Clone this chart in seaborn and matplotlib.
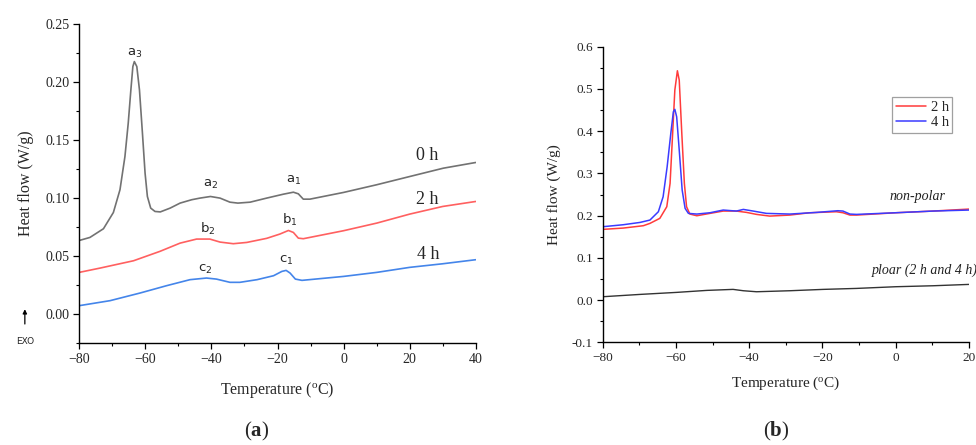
import numpy as np
import pandas as pd
import matplotlib
matplotlib.use('Agg')
import matplotlib.pyplot as plt
import seaborn as sns
from matplotlib.ticker import MultipleLocator

sns.set_style('ticks')
plt.rcParams['font.family'] = ['Liberation Serif', 'DejaVu Serif']
plt.rcParams['mathtext.fontset'] = 'custom'
plt.rcParams['mathtext.rm'] = 'Liberation Serif'

# ---- panel (a) data ----
t_0h = [-80, -76.8, -72.7, -69.7, -67.7, -66.2, -65.2, -64.4, -63.8, -63.35, -62.6, -61.8,
        -60.9, -60.1, -59.4, -58.4, -57.1, -55.5, -52.5, -49.5, -46.0, -43.5, -40.3, -37.4,
        -34.4, -32, -28.3, -23.3, -18.2, -15.2, -13.7, -12.2, -10.2, 0, 10, 20, 30.2, 40]
hf_0h = [0.0634, 0.0660, 0.0735, 0.0875, 0.1071, 0.1357, 0.1645, 0.1932, 0.2133, 0.2176,
         0.2133, 0.1932, 0.1559, 0.1214, 0.1013, 0.0913, 0.0884, 0.0880, 0.0913, 0.0956,
         0.0985, 0.0999, 0.1013, 0.0999, 0.0964, 0.0956, 0.0964, 0.0999, 0.1033, 0.1050,
         0.1036, 0.0990, 0.0990, 0.1048, 0.1114, 0.1185, 0.1257, 0.1306]

t_2h = [-80, -73.7, -63.6, -55.6, -49.5, -44.5, -40.5, -37.4, -33.4, -29.3, -23.3, -19.3,
        -16.7, -15.2, -13.7, -12.2, 0, 10.1, 20, 30, 40]
hf_2h = [0.0359, 0.0396, 0.0459, 0.0540, 0.0611, 0.0646, 0.0646, 0.0620, 0.0606, 0.0617,
         0.0652, 0.0689, 0.0720, 0.0703, 0.0654, 0.0649, 0.0718, 0.0784, 0.0861, 0.0927,
         0.0970]

t_4h = [-80, -70.7, -61.6, -53.6, -46.5, -41.5, -38.5, -34.4, -31.4, -26.2, -21.2, -18.7,
        -17.4, -16.2, -14.6, -12.6, 0, 10.1, 20, 30, 40]
hf_4h = [0.0072, 0.0115, 0.0181, 0.0244, 0.0296, 0.0310, 0.0301, 0.0273, 0.0273, 0.0296,
         0.0330, 0.0367, 0.0376, 0.0353, 0.0301, 0.0290, 0.0324, 0.0359, 0.0402, 0.0433,
         0.0468]

peak_labels = [('a', '3', -63.1, 0.2248), ('a', '2', -40.3, 0.1114), ('a', '1', -15.2, 0.1148),
               ('b', '2', -41.0, 0.0732), ('b', '1', -16.2, 0.0812),
               ('c', '2', -42.0, 0.0387), ('c', '1', -17.4, 0.0462)]
time_labels = [('0 h', 25.2, 0.1363), ('2 h', 25.2, 0.0985), ('4 h', 25.7, 0.0511)]

# ---- panel (b) data ----
t_b2 = [-80, -74.4, -68.9, -67.1, -64.4, -62.5, -61.6, -60.9, -60.3, -59.6, -59.1, -58.4,
        -57.7, -57.1, -56.2, -54.3, -50.7, -47.1, -43.5, -40.7, -38, -34.4, -28.9, -23.5,
        -16.2, -14.4, -12.5, -10.7, 0, 10.2, 20]
hf_b2 = [0.1674, 0.1705, 0.1761, 0.1816, 0.1935, 0.2211, 0.2764, 0.3948, 0.4974, 0.5431,
         0.521, 0.3948, 0.2764, 0.2211, 0.2037, 0.1997, 0.2053, 0.2108, 0.2108, 0.2076,
         0.2029, 0.1989, 0.2013, 0.2068, 0.2092, 0.2068, 0.2013, 0.2013, 0.2068, 0.2108,
         0.2155]

t_b4 = [-80, -74.4, -69.8, -67.1, -64.8, -63.5, -62.4, -61.4, -60.7, -60.3, -59.8, -59.1,
        -58.3, -57.5, -56.6, -54.3, -50.7, -47.1, -43.5, -41.6, -38.9, -35.3, -28.9, -21.6,
        -15.8, -14.4, -12.5, -10.7, 0, 10.2, 20]
hf_b4 = [0.1737, 0.1784, 0.1839, 0.1895, 0.2092, 0.2447, 0.3157, 0.3948, 0.446, 0.4517,
         0.434, 0.3553, 0.2605, 0.2172, 0.2053, 0.2037, 0.2068, 0.2132, 0.2108, 0.2147,
         0.2108, 0.2053, 0.2037, 0.2076, 0.2116, 0.2108, 0.2037, 0.2029, 0.2068, 0.2108,
         0.2132]

t_polar = [-80, -69.8, -59.8, -51.6, -44.4, -41.6, -38, -28.9, -19.8, -10.7, 0, 10.2, 20]
hf_polar = [0.0079, 0.0134, 0.0182, 0.0229, 0.0253, 0.0221, 0.0197, 0.0221, 0.0253, 0.0276,
            0.0316, 0.0339, 0.0371]

fig = plt.figure(figsize=(9.76, 4.45), dpi=100)
ax1 = fig.add_axes([0.0813, 0.2292, 0.4061, 0.7169])
ax2 = fig.add_axes([0.6175, 0.2308, 0.3753, 0.6642])


def style_axis(ax, size):
    sns.despine(ax=ax)
    for s in ['left', 'bottom']:
        ax.spines[s].set_linewidth(1.0)
        ax.spines[s].set_color('black')
    ax.tick_params(which='major', direction='out', length=4, width=0.9, labelsize=size,
                   color='black', pad=3)
    ax.tick_params(which='minor', direction='out', length=2.5, width=0.8, color='black')
    ax.grid(False)


# panel (a)
sns.lineplot(x=t_0h, y=hf_0h, ax=ax1, color='#727272', linewidth=1.2)
sns.lineplot(x=t_2h, y=hf_2h, ax=ax1, color='#ff6060', linewidth=1.2)
sns.lineplot(x=t_4h, y=hf_4h, ax=ax1, color='#4485ea', linewidth=1.2)
ax1.set_xlim(-80, 40)
ax1.set_ylim(-0.025, 0.25)
ax1.xaxis.set_major_locator(MultipleLocator(20))
ax1.xaxis.set_minor_locator(MultipleLocator(10))
ax1.yaxis.set_major_locator(MultipleLocator(0.05))
ax1.yaxis.set_minor_locator(MultipleLocator(0.025))
ax1.yaxis.set_major_formatter(matplotlib.ticker.FormatStrFormatter('%.2f'))
style_axis(ax1, 10)
ax1.set_xlabel('Temperature ($\\mathregular{^{o}}$C)', fontsize=11.5, labelpad=10)
ax1.set_ylabel('Heat flow (W/g)', fontsize=11.5, labelpad=8)

for letter, num, x, y in peak_labels:
    ax1.text(x, y, letter + '$\\mathregular{_{' + num + '}}$', ha='center', va='center',
             fontsize=9.5, family=['DejaVu Sans'])
for lab, x, y in time_labels:
    ax1.text(x, y, lab, ha='center', va='center', fontsize=13)

ax1.annotate('', xy=(-96.5, 0.0065), xytext=(-96.5, -0.011), xycoords='data',
             arrowprops=dict(arrowstyle='-|>', color='black', lw=0.9, mutation_scale=6),
             annotation_clip=False)
ax1.text(-96.5, -0.0195, 'EXO', ha='center', va='top', fontsize=6.5, family=['DejaVu Sans'],
         clip_on=False)

# panel (b)
sns.lineplot(x=t_b2, y=hf_b2, ax=ax2, color='#ff3b3b', linewidth=1.1, label='2 h')
sns.lineplot(x=t_b4, y=hf_b4, ax=ax2, color='#3b3bff', linewidth=1.1, label='4 h')
sns.lineplot(x=t_polar, y=hf_polar, ax=ax2, color='#333333', linewidth=1.0)
ax2.set_xlim(-80, 20)
ax2.set_ylim(-0.1, 0.6)
ax2.xaxis.set_major_locator(MultipleLocator(20))
ax2.xaxis.set_minor_locator(MultipleLocator(10))
ax2.yaxis.set_major_locator(MultipleLocator(0.1))
ax2.yaxis.set_minor_locator(MultipleLocator(0.05))
ax2.yaxis.set_major_formatter(matplotlib.ticker.FormatStrFormatter('%.1f'))
style_axis(ax2, 9.5)
ax2.set_xlabel('Temperature ($\\mathregular{^{o}}$C)', fontsize=11, labelpad=8)
ax2.set_ylabel('Heat flow (W/g)', fontsize=11, labelpad=8)
leg = ax2.legend(loc='upper right', bbox_to_anchor=(0.955, 0.83), fontsize=10.5,
                 frameon=True, fancybox=False, handlelength=2.1, handletextpad=0.3,
                 borderpad=0.25, labelspacing=0.15, borderaxespad=0)
leg.get_frame().set_edgecolor('#888888')
leg.get_frame().set_linewidth(0.9)
ax2.text(5.9, 0.2447, 'non-polar', ha='center', va='center', fontsize=10, style='italic',
         color='#222222')
ax2.text(-6.6, 0.0695, 'ploar (2 h and 4 h)', ha='left', va='center', fontsize=10,
         style='italic', color='#222222', clip_on=False)

fig.text(0.257, 0.008, '(', ha='right', va='bottom', fontsize=15)
fig.text(0.257, 0.008, 'a', ha='left', va='bottom', fontsize=15, fontweight='bold')
fig.text(0.268, 0.008, ')', ha='left', va='bottom', fontsize=15)
fig.text(0.789, 0.008, '(', ha='right', va='bottom', fontsize=15)
fig.text(0.789, 0.008, 'b', ha='left', va='bottom', fontsize=15, fontweight='bold')
fig.text(0.801, 0.008, ')', ha='left', va='bottom', fontsize=15)

fig.savefig('out.png', dpi=100, facecolor='white')
